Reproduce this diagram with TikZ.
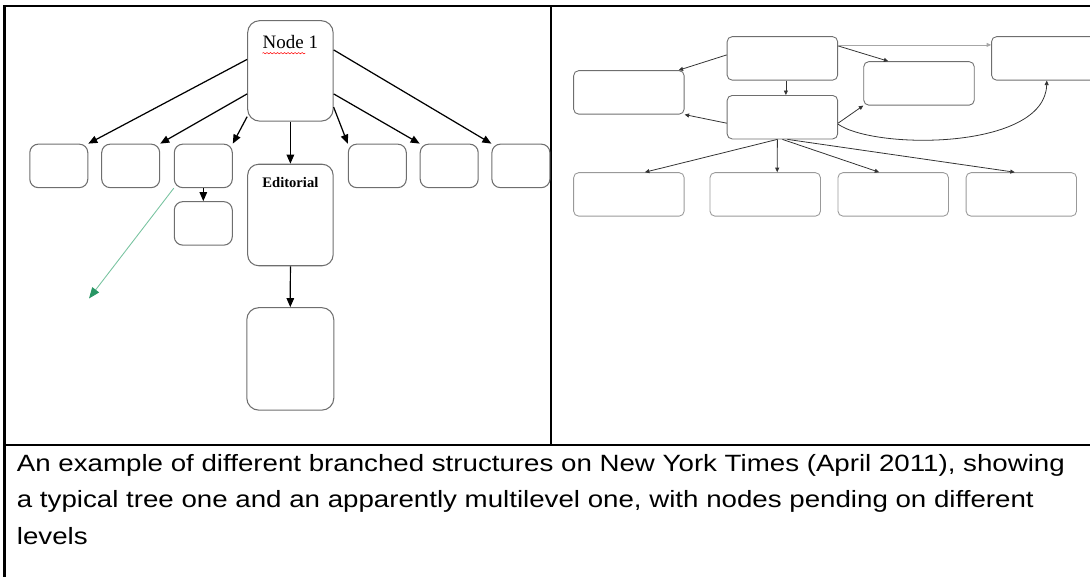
\documentclass[tikz,border=0pt]{standalone}
\usepackage{fontspec}
\setmainfont{Liberation Sans}
\newfontfamily\timesfont{Liberation Serif}
\usetikzlibrary{arrows.meta,positioning,decorations.pathmorphing}
\definecolor{boxgray}{RGB}{110,110,110}
\definecolor{lightgreen}{RGB}{120,195,160}
\definecolor{darkgreen}{RGB}{40,150,100}
\begin{document}
\begin{tikzpicture}[x=0.02cm, y=-0.02cm,
		box/.style={draw=boxgray, line width=0.6pt, rounded corners=0.17cm, inner sep=0pt},
		smallbox/.style={box, minimum width=1.16cm, minimum height=0.87cm},
		widebox/.style={draw=boxgray, line width=0.5pt, rounded corners=0.1cm, inner sep=0pt, minimum width=2.21cm, minimum height=0.87cm},
		link/.style={-{Triangle[length=0.18cm,width=0.15cm]}, line width=0.7pt},
		thinlink/.style={-{Triangle[length=0.09cm,width=0.08cm]}, line width=0.45pt, black!80}]
	\useasboundingbox (0,0) rectangle (1090,577);
	% frame
	\draw[line width=1.3pt] (4.5,577) -- (4.5,6) -- (1090,6);
	\draw[line width=1.1pt] (4.5,445) -- (1090,445);
	\draw[line width=1.1pt] (551,6) -- (551,445);
	% left: tree
	\node[box, minimum width=1.71cm, minimum height=2.01cm, rounded corners=0.24cm] (n1) at (290.4,70.9) {};
	\node[below=0.29cm of n1.north, inner sep=0pt, font=\timesfont\fontsize{10.8}{12}\selectfont] (n1txt) {Node 1};
	\draw[red, line width=0.3pt, decorate, decoration={snake, amplitude=0.35pt, segment length=2pt}] ([yshift=-0.09cm]n1txt.south west) -- ([yshift=-0.09cm, xshift=0.86cm]n1txt.south west);
	\node[smallbox] (b1) at (58.8,165.9) {};
	\node[smallbox] (b2) at (130.7,165.9) {};
	\node[smallbox] (b3) at (203.3,165.9) {};
	\node[smallbox] (b4) at (377.3,165.9) {};
	\node[smallbox] (b5) at (449.2,165.9) {};
	\node[smallbox] (b6) at (520.9,165.9) {};
	\node[smallbox] (b3sub) at (203.3,223.4) {};
	\node[box, minimum width=1.71cm, minimum height=2.03cm, rounded corners=0.22cm] (ed) at (290.4,215) {};
	\node[below=0.27cm of ed.north, inner sep=0pt, font=\timesfont\bfseries\fontsize{8.3}{10}\selectfont] (edtxt) {Editorial};
	\node[box, minimum width=1.74cm, minimum height=2.05cm, rounded corners=0.24cm] (bot) at (290.3,358.9) {};
	\coordinate (gtip) at (89,298.5);
	\draw[link] ([yshift=0.23cm]n1.west) -- (b1.north east);
	\draw[link] ([yshift=-0.46cm]n1.west) -- (b2.north east);
	\draw[link] ([yshift=0.1cm]n1.south west) -- (b3.north east);
	\draw[link] (n1.south) -- (ed.north);
	\draw[link] ([yshift=0.29cm]n1.south east) -- (b4.north west);
	\draw[link] ([yshift=-0.46cm]n1.east) -- (b5.north west);
	\draw[link] ([yshift=0.42cm]n1.east) -- (b6.north west);
	\draw[link] (b3.south) -- (b3sub.north);
	\draw[link] (ed.south) -- (bot.north);
	\draw[lightgreen, line width=0.5pt, -{Triangle[length=0.22cm,width=0.17cm,color=darkgreen]}] (b3.south west) -- (gtip);
	% right: multilevel
	\node[widebox] (top) at (782.4,58.4) {};
	\node[widebox] (left) at (628.9,92.4) {};
	\node[widebox] (mid) at (782.4,117.2) {};
	\node[widebox] (side) at (919,83.4) {};
	\node[widebox] (far) at (1046.8,58.4) {};
	\node[widebox, draw=boxgray!70] (c1) at (628.9,194.4) {};
	\node[widebox, draw=boxgray!70] (c2) at (765.2,194.4) {};
	\node[widebox, draw=boxgray!70] (c3) at (893.2,194.4) {};
	\node[widebox, draw=boxgray!70] (c4) at (1021.3,194.4) {};
	\draw[thinlink] ([yshift=0.07cm]top.west) -- ([xshift=-0.12cm]left.north east);
	\draw[thinlink] ([xshift=0.07cm]top.south) -- ([xshift=0.07cm]mid.north);
	\draw[thinlink] ([yshift=0.25cm]top.east) -- ([xshift=0.5cm]side.north west);
	\draw[thinlink, black!35] ([yshift=0.27cm]top.east) -- ([yshift=0.27cm]far.west);
	\draw[thinlink] ([yshift=-0.12cm]mid.west) -- (left.south east);
	\draw[thinlink] ([yshift=-0.12cm]mid.east) -- (side.south west);
	\draw[thinlink] ([yshift=-0.14cm]mid.east) .. controls (875,150) and (1045,150) .. (far.south);
	\draw[thinlink] ([xshift=-0.1cm]mid.south) -- ([xshift=0.32cm]c1.north);
	\draw[thinlink] ([xshift=-0.1cm]mid.south) -- ([xshift=0.24cm]c2.north);
	\draw[thinlink] (mid.south) -- ([xshift=-0.28cm]c3.north);
	\draw[thinlink] ([xshift=0.1cm]mid.south) -- ([xshift=-0.13cm]c4.north);
	% caption
	\node[anchor=north west, inner sep=0pt, align=left, xscale=1.176, transform shape, font=\fontsize{13.4}{20.7}\selectfont] (cap) at (16.5,454) {An example of different branched structures on New York Times (April 2011), showing\\a typical tree one and an apparently multilevel one, with nodes pending on different\\levels};
\end{tikzpicture}
\end{document}
